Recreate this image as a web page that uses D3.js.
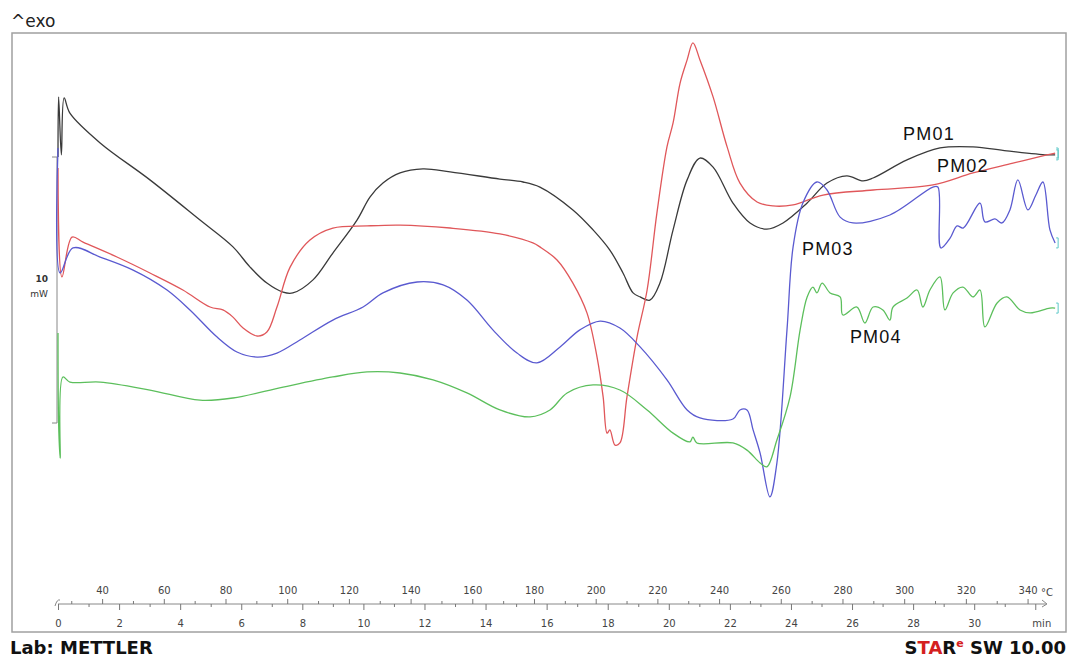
<!DOCTYPE html>
<html>
<head>
<meta charset="utf-8">
<script src="https://cdn.jsdelivr.net/npm/d3@7"></script>
<style>
  body { margin: 0; background: #fff; }
  svg { display: block; }
</style>
</head>
<body>
<svg id="canvas" width="1069" height="659"></svg>
<script>
// time in min, heat flow in mW (offset curves)
const pm01 = [[0,10.0],[0.02,12.26],[0.11,10.08],[0.2,12.22],[0.39,11.65],[1.38,10.53],[3.01,9.14],[4.65,7.63],[5.73,6.62],[6.29,5.86],[6.84,5.26],[7.37,4.92],[7.69,4.89],[8.35,5.38],[9.0,6.39],[9.79,7.63],[10.22,8.5],[10.64,9.02],[11.2,9.4],[11.95,9.55],[12.84,9.44],[14.47,9.17],[15.23,9.06],[15.78,8.87],[16.86,8.01],[17.52,7.26],[18.07,6.5],[18.5,5.64],[18.83,4.89],[19.06,4.74],[19.38,4.62],[19.71,5.26],[20.14,7.26],[20.6,9.14],[21.02,9.96],[21.45,9.62],[22.1,8.27],[22.66,7.52],[23.21,7.29],[23.74,7.52],[24.53,8.27],[25.18,9.02],[25.83,9.29],[26.36,9.1],[26.69,9.21],[27.8,9.89],[28.88,10.34],[29.96,10.38],[31.07,10.23],[32.38,10.08],[32.65,10.08]];
const pm02 = [[0,9.59],[0.13,5.49],[0.46,6.99],[0.82,6.8],[1.93,6.24],[3.01,5.64],[4.09,5.0],[4.98,4.36],[5.4,4.25],[5.73,3.98],[6.06,3.57],[6.52,3.27],[6.84,3.42],[7.17,4.36],[7.6,5.86],[8.25,6.88],[9.0,7.33],[10.12,7.41],[11.2,7.44],[12.84,7.33],[14.47,7.11],[15.55,6.77],[15.78,6.62],[16.34,6.13],[16.86,5.26],[17.32,4.14],[17.65,2.48],[17.85,0.98],[17.98,-0.38],[18.07,-0.26],[18.24,-0.83],[18.4,-0.75],[18.63,0.98],[18.96,3.23],[19.29,5.0],[19.61,7.89],[19.94,10.38],[20.14,11.28],[20.37,12.78],[20.6,13.65],[20.79,14.29],[21.02,13.65],[21.45,12.26],[21.91,10.38],[22.33,9.02],[22.89,8.31],[23.41,8.16],[24.07,8.2],[25.05,8.57],[26.69,8.76],[28.65,8.95],[29.96,9.4],[31.27,9.77],[32.38,10.08],[32.65,10.15]];
const pm03 = [[0,10.34],[0.07,5.64],[0.49,6.58],[1.38,6.24],[2.46,5.75],[3.57,5.0],[4.32,4.25],[5.21,3.23],[5.86,2.67],[6.52,2.48],[7.17,2.63],[7.92,3.12],[9.0,3.87],[9.99,4.36],[10.64,4.89],[11.76,5.3],[12.61,5.19],[13.39,4.62],[14.24,3.5],[15.03,2.63],[15.68,2.26],[16.44,2.86],[17.09,3.5],[17.75,3.83],[18.4,3.57],[19.06,2.86],[19.94,1.62],[20.6,0.49],[21.02,0.19],[22.1,0.15],[22.33,0.49],[22.56,0.49],[22.76,-0.26],[22.99,-1.13],[23.31,-2.78],[23.54,-1.5],[23.87,3.5],[24.07,6.62],[24.39,8.27],[24.85,9.06],[25.18,8.76],[25.61,7.74],[26.03,7.52],[27.24,7.82],[28.65,8.87],[28.81,8.87],[28.91,6.58],[29.21,6.95],[29.44,7.41],[29.64,7.33],[30.19,8.27],[30.35,7.56],[30.68,7.67],[30.91,7.52],[31.17,8.01],[31.43,9.14],[31.76,8.01],[32.02,8.57],[32.25,9.06],[32.48,7.26],[32.65,6.77]];
const pm04 = [[0,3.38],[0.02,0],[0.07,-1.32],[0.16,1.73],[0.39,1.54],[1.38,1.54],[3.01,1.24],[4.65,0.86],[5.73,0.94],[7.37,1.35],[9.0,1.73],[10.12,1.92],[11.2,1.88],[12.28,1.62],[13.39,1.13],[14.47,0.49],[15.46,0.23],[16.11,0.49],[16.67,1.13],[17.52,1.43],[18.4,1.24],[19.29,0.49],[20.14,-0.38],[20.69,-0.71],[20.79,-0.53],[20.92,-0.75],[22.1,-0.75],[22.56,-1.02],[22.99,-1.5],[23.21,-1.65],[23.54,-0.64],[23.97,0.98],[24.3,3.5],[24.53,4.74],[24.72,5.11],[24.85,4.89],[25.02,5.26],[25.28,4.89],[25.61,4.74],[25.7,4.06],[26.16,4.36],[26.42,3.76],[26.69,4.36],[27.01,4.25],[27.24,3.87],[27.34,4.36],[27.8,4.7],[28.13,5.0],[28.32,4.36],[28.55,5.0],[28.88,5.49],[29.04,4.25],[29.31,4.89],[29.63,5.11],[29.96,4.74],[30.19,5.0],[30.35,3.61],[30.75,4.51],[31.07,4.74],[31.5,4.25],[31.83,4.14],[32.48,4.32],[32.65,4.32]];

const seriesNames = ["PM01", "PM02", "PM03", "PM04"];
const seriesColors = ["#3a3a3a", "#e0575a", "#5a5ad0", "#5cbf5c"];
const labelPos = [[27.67, 10.64], [28.78, 9.44], [24.36, 6.32], [25.93, 3.0]]; // [min, mW]

const tempTicks = d3.range(30, 350, 10);          // °C
const tempLabels = d3.range(40, 350, 20);
const minTicks = d3.range(0, 33, 1);              // min
const minLabels = d3.range(0, 31, 2);

const canvas = d3.select("#canvas");

const x = d3.scaleLinear().domain([0, 32.7]).range([58, 58 + 32.7 * 30.54]);
const xTemp = d3.scaleLinear().domain([25.7, 25.7 + 9.9 * 32.7]).range(x.range());
const y = d3.scaleLinear().domain([0, 10]).range([423, 157]);

// frame
canvas.append("rect")
    .attr("x", 12).attr("y", 33)
    .attr("width", 1054).attr("height", 599)
    .attr("fill", "none")
    .attr("stroke", "#a0a0a0")
    .attr("stroke-width", 1.5);

canvas.append("text")
    .attr("x", 11).attr("y", 27)
    .attr("font-family", "DejaVu Sans")
    .attr("font-size", 17)
    .attr("fill", "#222")
    .text("^exo");

// mW scale bar
canvas.append("path")
    .attr("d", `M52,${y(10)}H57V${y(0)}H52`)
    .attr("fill", "none")
    .attr("stroke", "#888")
    .attr("stroke-width", 1);
canvas.append("text")
    .attr("x", 48).attr("y", 282)
    .attr("text-anchor", "end")
    .attr("font-family", "DejaVu Sans").attr("font-size", 9).attr("font-weight", "bold")
    .attr("fill", "#333")
    .text("10");
canvas.append("text")
    .attr("x", 48).attr("y", 297)
    .attr("text-anchor", "end")
    .attr("font-family", "DejaVu Sans").attr("font-size", 9)
    .attr("fill", "#333")
    .text("mW");

// curves
const line = d3.line()
    .x((d) => x(d[0]))
    .y((d) => y(d[1]))
    .curve(d3.curveCatmullRom.alpha(0.5));

[pm01, pm02, pm03, pm04].forEach((data, i) => {
    canvas.append("path")
        .datum(data)
        .attr("d", line)
        .attr("fill", "none")
        .attr("stroke", seriesColors[i])
        .attr("stroke-width", 1.3);

    // end marker
    const last = data[data.length - 1];
    canvas.append("path")
        .attr("d", `M${x(last[0]) + 1},${y(last[1]) - 5}h2v10h-2`)
        .attr("fill", "none")
        .attr("stroke", "#5cc8c8")
        .attr("stroke-width", 1);
});

canvas.selectAll(".series-label")
    .data(seriesNames)
    .enter()
    .append("text")
    .attr("class", "series-label")
    .attr("x", (d, i) => x(labelPos[i][0]))
    .attr("y", (d, i) => y(labelPos[i][1]))
    .attr("font-family", "Liberation Sans, Arial")
    .attr("font-size", 18)
    .attr("letter-spacing", 1.2)
    .attr("fill", "#111")
    .text((d) => d);

// x axes: temperature on top of the line, time below
const axisY = 604;

canvas.append("path")
    .attr("d", `M58,${axisY}H1046`)
    .attr("stroke", "#888")
    .attr("stroke-width", 1);
canvas.append("path")
    .attr("d", `M55,${axisY + 2}Q57,${axisY - 5} 60,${axisY - 4}`)
    .attr("fill", "none")
    .attr("stroke", "#888");
canvas.append("path")
    .attr("d", `M1042,${axisY - 4}L1047,${axisY}L1042,${axisY + 3}`)
    .attr("fill", "none")
    .attr("stroke", "#888");

const tempAxis = canvas.append("g")
    .attr("transform", `translate(0,${axisY})`)
    .call(d3.axisTop(xTemp)
        .tickValues(tempTicks)
        .tickSize(4)
        .tickPadding(6)
        .tickFormat((d) => tempLabels.includes(d) ? d : ""));
tempAxis.select(".domain").remove();
tempAxis.selectAll(".tick line")
    .attr("stroke", "#777")
    .attr("y2", (d) => tempLabels.includes(d) ? -5 : -3);

const minAxis = canvas.append("g")
    .attr("transform", `translate(0,${axisY})`)
    .call(d3.axisBottom(x)
        .tickValues(minTicks)
        .tickSize(5)
        .tickPadding(11)
        .tickFormat((d) => minLabels.includes(d) ? d : (d === 32 ? "min" : "")));
minAxis.select(".domain").remove();
minAxis.selectAll(".tick line")
    .attr("stroke", "#777")
    .attr("y2", (d) => d % 2 === 0 ? 6 : 3);

canvas.selectAll(".tick text")
    .attr("font-family", "DejaVu Sans")
    .attr("font-size", 10)
    .attr("fill", "#444");
minAxis.selectAll(".tick text")
    .filter((d) => d === 32)
    .attr("dx", 6);

canvas.append("text")
    .attr("x", 1047).attr("y", 596)
    .attr("text-anchor", "middle")
    .attr("font-family", "DejaVu Sans").attr("font-size", 10)
    .attr("fill", "#444")
    .text("°C");

// footer
canvas.append("text")
    .attr("x", 10).attr("y", 654)
    .attr("font-family", "DejaVu Sans").attr("font-weight", "bold").attr("font-size", 18)
    .attr("fill", "#111")
    .text("Lab: METTLER");

const brand = canvas.append("text")
    .attr("x", 1066).attr("y", 654)
    .attr("text-anchor", "end")
    .attr("font-family", "DejaVu Sans").attr("font-weight", "bold").attr("font-size", 18)
    .attr("fill", "#111");
brand.append("tspan").text("S");
brand.append("tspan").attr("fill", "#d42020").text("TA");
brand.append("tspan").text("R");
brand.append("tspan").attr("fill", "#d42020").attr("font-size", 11).attr("dy", -7).text("e");
brand.append("tspan").attr("dy", 7).text(" SW 10.00");
</script>
</body>
</html>
